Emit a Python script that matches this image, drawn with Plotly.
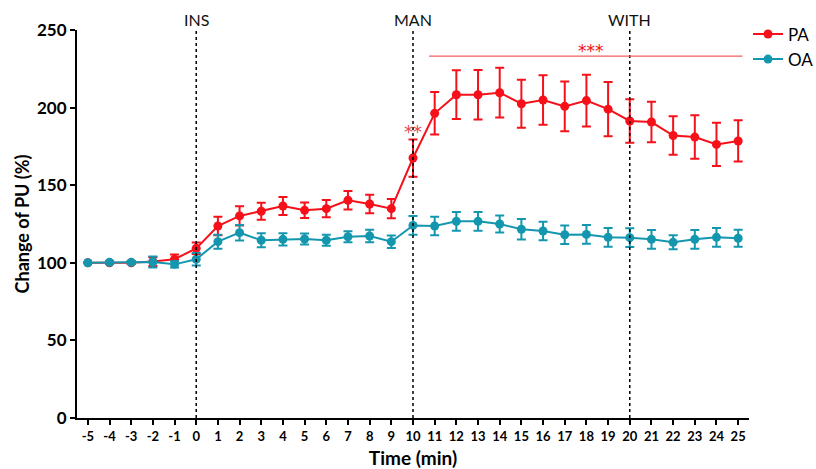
import plotly.graph_objects as go

time = list(range(-5, 26))
pa_mean = [100, 100, 100, 100.8, 102.3, 109.3, 123.7, 130.2, 133.2, 136.6, 133.8, 134.9, 140.3, 137.9, 134.9,
           167.5, 196.3, 208.3, 208.3, 209.6, 202.5, 204.9, 200.8, 204.5, 199.0, 191.4, 190.7, 182.0, 181.0, 176.3, 178.5]
pa_err = [0, 0.8, 0.8, 2.8, 3.0, 3.7, 6.0, 6.2, 5.5, 5.8, 5.0, 5.5, 6.0, 6.0, 6.2,
          12.0, 13.7, 15.7, 16.0, 16.0, 15.5, 16.0, 16.0, 16.7, 17.5, 14.0, 13.0, 12.4, 14.0, 14.0, 13.3]
oa_mean = [100, 100.3, 100.3, 100.5, 99.0, 102.3, 113.6, 119.4, 114.5, 115.1, 115.3, 114.5, 116.8, 117.3, 113.6,
           124.1, 123.7, 126.7, 126.7, 125.0, 121.6, 120.5, 118.1, 118.3, 116.4, 116.2, 115.1, 113.2, 115.1, 116.4, 115.8]
oa_err = [0, 0.8, 0.8, 3.5, 2.0, 4.0, 4.5, 5.0, 4.5, 4.0, 3.5, 3.5, 3.5, 4.0, 4.0,
          6.0, 6.0, 6.0, 6.0, 5.5, 6.6, 6.0, 6.0, 6.0, 6.0, 6.0, 6.0, 4.5, 6.0, 6.0, 5.5]

events = [0, 10, 20]
event_labels = ["INS", "MAN", "WITH"]
y_ticks = [0, 50, 100, 150, 200, 250]

RED = "#f5101a"
TEAL = "#1497ae"
FONT = "Lato, 'Open Sans', sans-serif"
STAR_FONT = "'DejaVu Sans', sans-serif"

fig = go.Figure()
fig.add_trace(go.Scatter(
    x=time, y=pa_mean, name="PA", mode="lines+markers",
    line=dict(color=RED, width=2), marker=dict(color=RED, size=9),
    error_y=dict(type="data", array=pa_err, color=RED, thickness=2, width=4.5),
))
fig.add_trace(go.Scatter(
    x=time, y=oa_mean, name="OA", mode="lines+markers",
    line=dict(color=TEAL, width=2), marker=dict(color=TEAL, size=9),
    error_y=dict(type="data", array=oa_err, color=TEAL, thickness=2, width=4.5),
))

for xe, lab in zip(events, event_labels):
    fig.add_shape(type="line", x0=xe, x1=xe, y0=0, y1=250, xref="x", yref="y",
                  line=dict(color="black", width=1.5, dash="dot"))
    fig.add_annotation(x=xe, y=1.0, xref="x", yref="paper", yanchor="bottom", yshift=-1,
                       text=lab, showarrow=False, font=dict(family=FONT, size=16, color="#111"))

# significance bar
fig.add_shape(type="line", x0=10.74, x1=25.2, y0=233.2, y1=233.2, xref="x", yref="y",
              line=dict(color="#f06060", width=1.2))
fig.add_annotation(x=18.2, y=239, xref="x", yref="y", yanchor="middle", yshift=-4,
                   text="***", showarrow=False, font=dict(family=STAR_FONT, size=17, color=RED))
fig.add_annotation(x=10, y=187, xref="x", yref="y", yanchor="middle", yshift=-4,
                   text="**", showarrow=False, font=dict(family=STAR_FONT, size=18, color="#e84848"))

fig.update_layout(
    width=816, height=469,
    margin=dict(l=77, r=67, t=30, b=51, autoexpand=False),
    plot_bgcolor="white", paper_bgcolor="white",
    font=dict(family=FONT, color="black"),
    showlegend=True,
    legend=dict(x=0.9985, y=1.035, xanchor="left", yanchor="top", font=dict(family=FONT, size=17),
                bgcolor="rgba(0,0,0,0)", tracegroupgap=0, itemwidth=30),
    xaxis=dict(range=[-5.5, 25.5], tickmode="array", tickvals=time, ticktext=[str(t) for t in time],
               showline=True, linecolor="black", linewidth=2, ticks="outside", ticklen=5,
               tickwidth=1.5, tickcolor="black", showgrid=False, zeroline=False, automargin=False,
               tickfont=dict(family=FONT, size=13, color="black", weight="bold"),
               title=dict(text="<b>Time (min)</b>", font=dict(family=FONT, size=19), standoff=10)),
    yaxis=dict(range=[0, 250], tickvals=y_ticks,
               showline=True, linecolor="black", linewidth=2, ticks="outside", ticklen=5,
               tickwidth=1.5, tickcolor="black", showgrid=False, zeroline=False, automargin=False,
               tickfont=dict(family=FONT, size=17, color="black", weight="bold"),
               title=dict(text="<b>Change of PU (%)</b>", font=dict(family=FONT, size=18), standoff=3)),
)

fig.write_html("out.html")
